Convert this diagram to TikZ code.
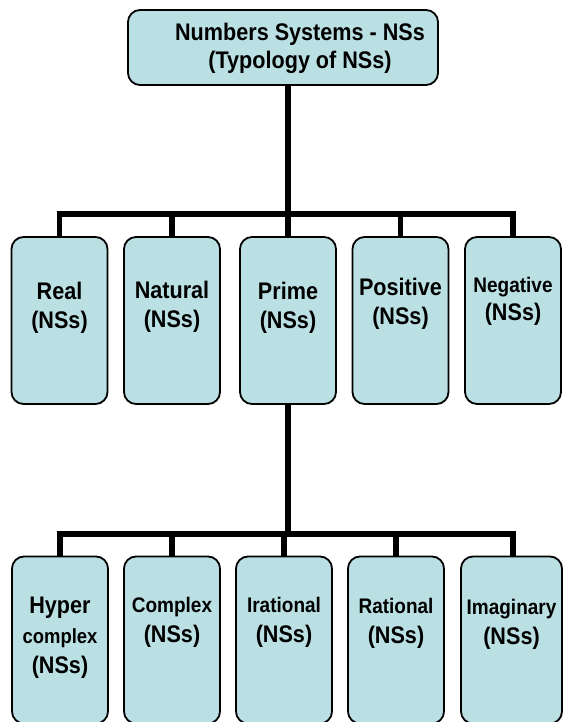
\documentclass[tikz,border=0pt]{standalone}
\usepackage{fontspec}
\setmainfont{Liberation Sans}[FakeStretch=0.9]
\definecolor{boxfill}{RGB}{187,224,227}
\begin{document}
\begin{tikzpicture}[x=1pt,y=-1pt,
  nsbox/.style={draw=black, line width=1.8pt, fill=boxfill, rounded corners=12pt,
                minimum width=96pt, minimum height=167pt, inner sep=0pt},
  lbl/.style={font=\bfseries\fontsize{24}{28.5}\selectfont, align=center, inner sep=0pt, anchor=north},
  lblb/.style={font=\bfseries\fontsize{24}{30}\selectfont, align=center, inner sep=0pt, anchor=north},
  link/.style={line width=5.5pt, line join=miter}]
\useasboundingbox (0,0) rectangle (563,722);
% top
\node[nsbox, minimum width=310pt, minimum height=75pt] (top) at (283,47.5) {};
\node[lbl] (toptxt) at (300,22.5) {Numbers Systems - NSs\\(Typology of NSs)};
% middle row
\node[nsbox] (real) at (59.5,320.5) {};
\node[nsbox] (nat)  at (172,320.5) {};
\node[nsbox] (prime) at (288,320.5) {};
\node[nsbox] (pos)  at (400.5,320.5) {};
\node[nsbox] (neg)  at (513,320.5) {};
\node[lbl] (realt) at (59.5,282) {Real\\(NSs)};
\node[lbl] (natt) at (172,281) {Natural\\(NSs)};
\node[lbl] (primet) at (288,282) {Prime\\(NSs)};
\node[lbl] (post) at (400.5,278) {Positive\\(NSs)};
\node[lbl] (negt) at (513,277) {{\fontsize{21.1}{28.5}\selectfont Negative}\\(NSs)};
% bottom row
\node[nsbox] (hyp) at (60,640) {};
\node[nsbox] (cpx) at (172,640) {};
\node[nsbox] (irr) at (284,640) {};
\node[nsbox] (rat) at (396,640) {};
\node[nsbox, minimum width=101pt] (img) at (511.5,640) {};
\node[lblb] (hypt) at (60,597) {Hyper\\{\fontsize{20.5}{30}\selectfont complex}\\(NSs)};
\node[lblb] (cpxt) at (172,597) {{\fontsize{21.1}{30}\selectfont Complex}\\(NSs)};
\node[lblb] (irrt) at (284,597) {{\fontsize{21.1}{30}\selectfont Irational}\\(NSs)};
\node[lblb] (ratt) at (396,598) {{\fontsize{21.1}{30}\selectfont Rational}\\(NSs)};
\node[lblb] (imgt) at (511.5,599) {{\fontsize{21.1}{30}\selectfont Imaginary}\\(NSs)};
% connectors
\coordinate (bar1) at (0,214);
\coordinate (bar2) at (0,534);
\draw[link] (top.south -| prime.north) -- (prime.north);
\draw[link] (real.north) -- (real.north |- bar1) -- (neg.north |- bar1) -- (neg.north);
\draw[link] (nat.north) -- (nat.north |- bar1);
\draw[link] (pos.north) -- (pos.north |- bar1);
\draw[link] (prime.south) -- (prime.south |- bar2);
\draw[link] (hyp.north) -- (hyp.north |- bar2) -- ([xshift=1.5pt]img.north |- bar2) -- ([xshift=1.5pt]img.north);
\draw[link] (cpx.north) -- (cpx.north |- bar2);
\draw[link] (irr.north) -- (irr.north |- bar2);
\draw[link] (rat.north) -- (rat.north |- bar2);
\end{tikzpicture}
\end{document}
